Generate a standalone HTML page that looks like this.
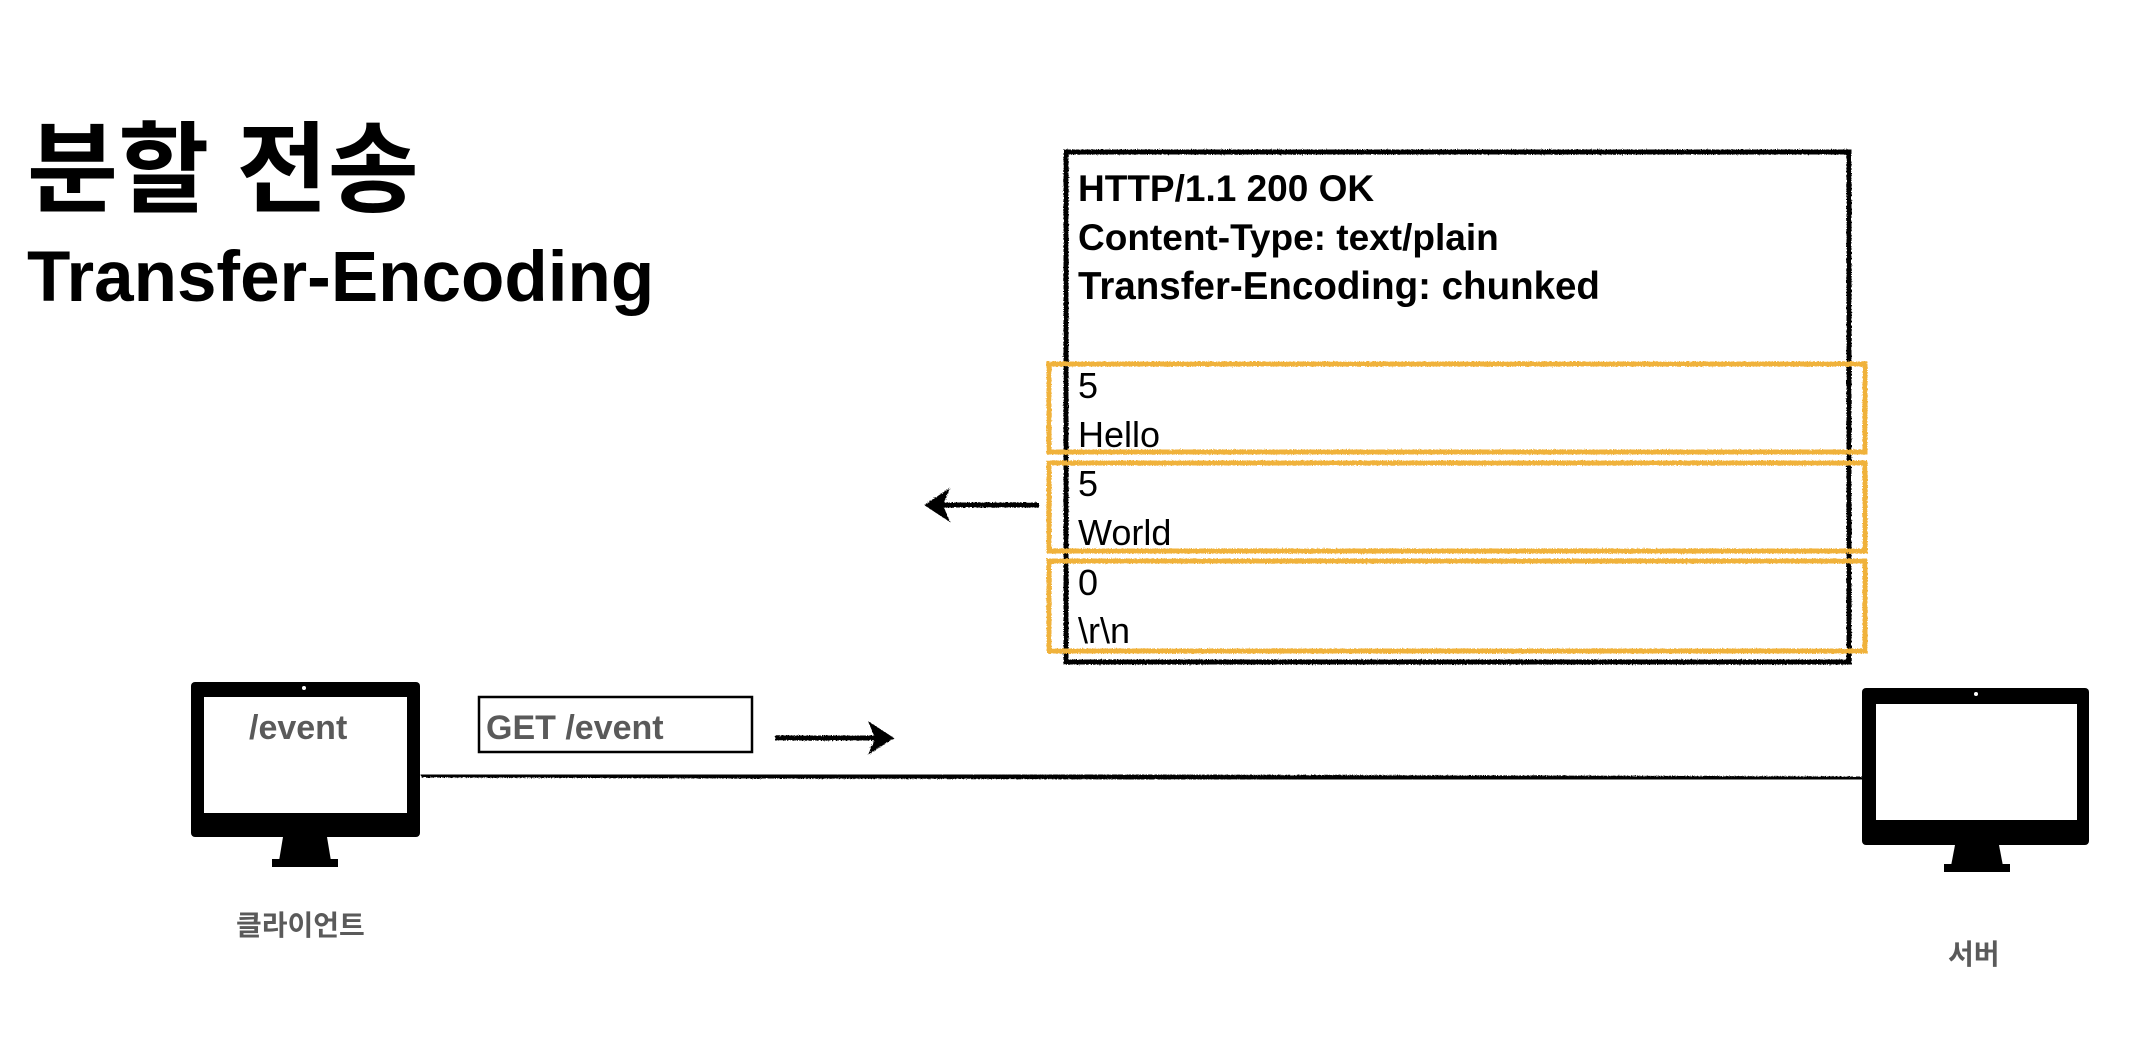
<!DOCTYPE html>
<html><head><meta charset="utf-8"><style>
html,body{margin:0;padding:0;background:#fff;}
svg{display:block;}
text{font-family:"Liberation Sans","Noto Sans CJK KR",sans-serif;font-weight:bold;}
</style></head><body>
<svg width="2144" height="1040" viewBox="0 0 2144 1040" xmlns="http://www.w3.org/2000/svg">
<defs>
<filter id="rough"><feTurbulence type="fractalNoise" baseFrequency="0.8" numOctaves="2" result="n"/><feDisplacementMap in="SourceGraphic" in2="n" scale="3"/></filter>
</defs>
<rect width="2144" height="1040" fill="#fff"/>
<text x="27" y="204" font-size="99" fill="#000">분할 전송</text>
<text x="27" y="301" font-size="71" fill="#000">Transfer-Encoding</text>

<rect x="1066" y="152" width="783" height="510" fill="none" stroke="#000" stroke-width="5" filter="url(#rough)"/>
<g font-size="36" fill="#000">
<text x="1078" y="201" font-size="37">HTTP/1.1 200 OK</text>
<text x="1078" y="250" font-size="37">Content-Type: text/plain</text>
<text x="1078" y="299" font-size="38.5">Transfer-Encoding: chunked</text>
<text x="1078" y="398" style="font-weight:normal">5</text>
<text x="1078" y="447" style="font-weight:normal">Hello</text>
<text x="1078" y="496" style="font-weight:normal">5</text>
<text x="1078" y="545" style="font-weight:normal">World</text>
<text x="1078" y="595" style="font-weight:normal">0</text>
<text x="1078" y="643" style="font-weight:normal">\r\n</text>
</g>
<g fill="none" stroke="#f0b23a" stroke-width="5" filter="url(#rough)">
<rect x="1049" y="364" width="816" height="88"/>
<rect x="1049" y="463" width="816" height="88"/>
<rect x="1049" y="561" width="816" height="90"/>
</g>

<g filter="url(#rough)">
<line x1="1039" y1="505" x2="935" y2="505" stroke="#000" stroke-width="5"/>
<polygon points="924,505 950,488 943,505 950,522" fill="#000"/>
</g>

<rect x="191" y="682" width="229" height="155" rx="4" fill="#000"/>
<rect x="204" y="697" width="203" height="116" fill="#fff"/>
<circle cx="304" cy="688" r="2" fill="#fff"/>
<polygon points="283,837 327,837 331,861 279,861" fill="#000"/>
<rect x="272" y="859" width="66" height="8" fill="#000"/>
<text x="249" y="739" font-size="34" fill="#5a5a5a">/event</text>
<text x="236" y="935" font-size="28" fill="#5a5a5a">클라이언트</text>

<rect x="479" y="697" width="273" height="55" fill="none" stroke="#000" stroke-width="2.5"/>
<text x="486" y="739" font-size="34" fill="#5a5a5a">GET /event</text>
<g filter="url(#rough)">
<line x1="775" y1="738" x2="885" y2="738" stroke="#000" stroke-width="5"/>
<polygon points="894,738 868,721 875,738 868,755" fill="#000"/>
</g>

<line x1="421" y1="775" x2="1862" y2="779" stroke="#000" stroke-width="5" filter="url(#rough)"/>

<rect x="1862" y="688" width="227" height="157" rx="4" fill="#000"/>
<rect x="1876" y="704" width="201" height="116" fill="#fff"/>
<circle cx="1976" cy="694" r="2" fill="#fff"/>
<polygon points="1955,845 1999,845 2003,866 1951,866" fill="#000"/>
<rect x="1944" y="864" width="66" height="8" fill="#000"/>
<text x="1948" y="964" font-size="28" fill="#5a5a5a">서버</text>
</svg>
</body></html>
